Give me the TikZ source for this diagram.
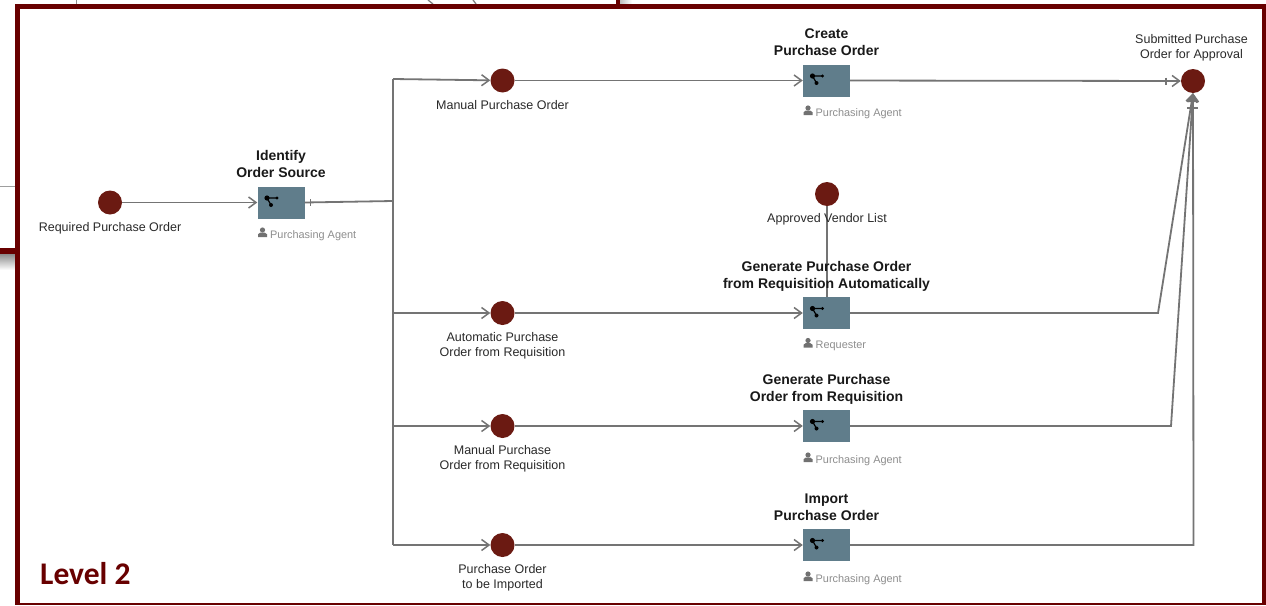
\documentclass[tikz,border=0pt]{standalone}
\usepackage{fontspec}
\setmainfont{Liberation Sans}
\newfontfamily\lvlfont{Carlito}
\usetikzlibrary{arrows.meta}
\definecolor{frame}{HTML}{680000}
\definecolor{evt}{HTML}{6B1A12}
\definecolor{fn}{HTML}{607D8B}
\definecolor{conn}{HTML}{747474}
\definecolor{lab}{HTML}{2A2A2A}
\definecolor{role}{HTML}{8E8E8E}
\tikzset{
  event/.style={circle,fill=evt,inner sep=0pt,minimum size=24pt},
  func/.style={rectangle,fill=fn,inner sep=0pt,minimum width=47pt,minimum height=32pt},
  elabel/.style={font=\fontsize{12.5}{15}\selectfont,text=lab,align=center,inner sep=0pt},
  ftitle/.style={font=\fontsize{14}{17}\selectfont\bfseries,text=black!90,align=center,inner sep=0pt},
  rolelabel/.style={font=\fontsize{10.9}{13}\selectfont,text=role,anchor=west,inner sep=0pt},
  plainflow/.style={draw=conn,line width=1.8pt},
  flow/.style={plainflow,-{Straight Barb[length=7.5pt,width=11pt,line width=1.5pt]}},
  tick/.style={draw=conn,line width=1.4pt},
  roleicon/.pic={\fill[role!80!black] (0,-3) circle (2.6pt); \fill[role!80!black] (-4.5,4.2) -- (-4.5,1.2) -- (-2.2,-.4) -- (2.2,-.4) -- (4.5,1.2) -- (4.5,4.2) -- cycle;},
  fnicon/.pic={\draw[black,line width=1.2pt] (-4,-3) -- (6,-3) (-4,-3) -- (0,4); \fill[black] (-4,-3) circle (2.6pt) (6,-3) circle (1.7pt) (0,4) circle (2pt);}
}
\begin{document}
\begin{tikzpicture}[x=1pt,y=-1pt]
\useasboundingbox (0,0) rectangle (1266,605);
\fill[white] (0,0) rectangle (1266,605);
% background fragments
\draw[conn!80,line width=1pt] (76,0) -- (76,4);
\draw[conn!90,line width=1.3pt] (428,0) -- (433,4) (473,0) -- (476,4);
\fill[frame] (616,0) rectangle (620,4);
\shade[left color=black!25,right color=white] (620,0) rectangle (632,4);
\draw[conn!70,line width=1pt] (0,186) -- (15,186);
\shade[top color=black!45,bottom color=white] (0,254) rectangle (15,270);
\fill[frame] (0,248) rectangle (15,254);
% main frame
\fill[frame] (15,4) rectangle (1266,605);
\fill[white] (20,9) rectangle (1262,603);
% events
\node[event] (e0) at (110,202.5) {};
\node[event] (e1) at (502.5,80.5) {};
\node[event] (e2) at (502.5,313) {};
\node[event] (e3) at (502.5,426) {};
\node[event] (e4) at (502.5,545) {};
\node[event] (e5) at (827,194) {};
\node[event] (e6) at (1193,81) {};
% functions
\node[func] (f0) at (281,202.5) {};
\node[func] (f1) at (826.5,80.5) {};
\node[func] (f2) at (826.5,313) {};
\node[func] (f3) at (826.5,426) {};
\node[func] (f4) at (826.5,545) {};
% junction coordinates
\coordinate (j) at (393,201);
\coordinate (j1) at (393,79);
\coordinate (j2) at (393,313);
\coordinate (j3) at (393,426);
\coordinate (j4) at (393,545);
\coordinate (b2) at (1158,313);
\coordinate (b3) at (1171,426);
\coordinate (b4) at (1193.5,545);
% connectors
\draw[flow] (e0) -- (f0);
\draw[plainflow] (f0.east) -- (j);
\draw[tick] (310.5,199) -- (310.5,205.5);
\draw[plainflow] (j1) -- (j4);
\draw[flow] (j1) -- (e1);
\draw[flow] (j2) -- (e2);
\draw[flow] (j3) -- (e3);
\draw[flow] (j4) -- (e4);
\draw[flow] (e1) -- (f1);
\draw[flow] (e2) -- (f2);
\draw[flow] (e3) -- (f3);
\draw[flow] (e4) -- (f4);
\draw[plainflow] (e5.south) -- (e5 |- f2.north);
\draw[flow] (f1) -- (e6);
\draw[tick] (1166,77.5) -- (1166,84.5);
\draw[flow] (f2.east) -- (b2) -- (e6.south);
\draw[flow] (f3.east) -- (b3) -- (e6.south);
\draw[flow] (f4.east) -- (b4) -- (e6.south);
\fill[conn] (e6.south) ++(0,1.5) -- ++(-5.5,7.5) -- ++(11,0) -- cycle;
\draw[tick] (1187,108) -- (1197.5,108);
% event labels
\node[elabel] (le0) at (110,228) {Required Purchase Order};
\node[elabel] (le1) at (502.5,105) {Manual Purchase Order};
\node[elabel] (le2) at (502.5,346) {Automatic Purchase\\Order from Requisition};
\node[elabel] (le3) at (502.5,459) {Manual Purchase\\Order from Requisition};
\node[elabel] (le4) at (502.5,578) {Purchase Order\\to be Imported};
\node[elabel] (le5) at (827,219) {Approved Vendor List};
\node[elabel] (le6) at (1191.5,47.5) {Submitted Purchase\\Order for Approval};
% function titles
\node[ftitle] (t0) at (281,163.5) {Identify\\Order Source};
\node[ftitle] (t1) at (826.5,42) {Create\\Purchase Order};
\node[ftitle] (t2) at (826.5,276.5) {Generate Purchase Order\\from Requisition Automatically};
\node[ftitle] (t3) at (826.5,389.5) {Generate Purchase\\Order from Requisition};
\node[ftitle] (t4) at (826.5,507) {Import\\Purchase Order};
% function icons
\foreach \p in {f0,f1,f2,f3,f4} \path (\p.center) ++(-10,-1.5) pic {fnicon};
% roles
\path (262.5,233) pic {roleicon}; \node[rolelabel] (r0) at (270,235.5) {Purchasing Agent};
\path (808,111) pic {roleicon}; \node[rolelabel] (r1) at (815.5,113.5) {Purchasing Agent};
\path (808,343.5) pic {roleicon}; \node[rolelabel] (r2) at (815.5,346) {Requester};
\path (808,458) pic {roleicon}; \node[rolelabel] (r3) at (815.5,460.5) {Purchasing Agent};
\path (808,577) pic {roleicon}; \node[rolelabel] (r4) at (815.5,579.5) {Purchasing Agent};
\node[font=\lvlfont\fontsize{31.5}{34}\selectfont\bfseries,text=frame,anchor=west,inner sep=0pt] (lvl) at (40,574) {Level 2};
\end{tikzpicture}
\end{document}
